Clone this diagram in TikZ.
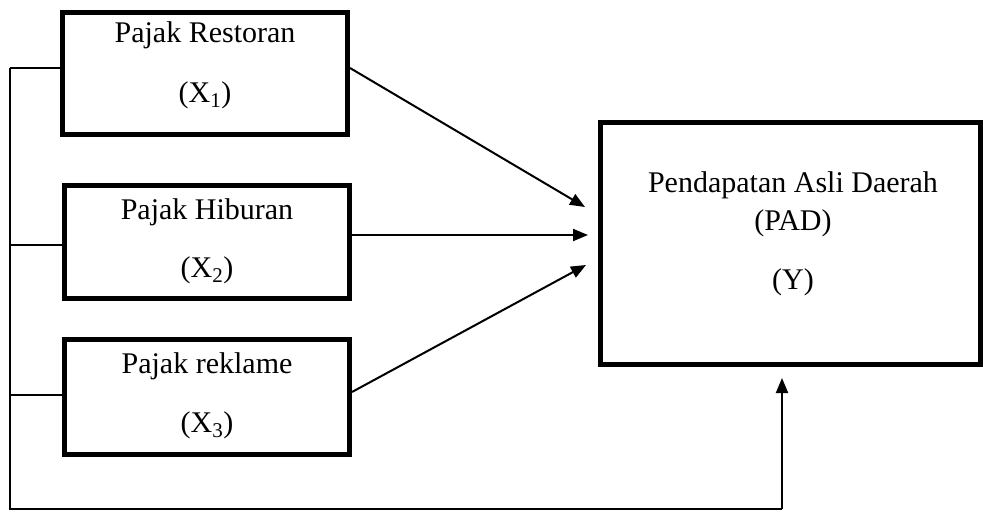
\documentclass[tikz,border=0pt]{standalone}
\usepackage{fontspec}
\setmainfont{Liberation Serif}
\usetikzlibrary{arrows.meta}
\begin{document}
\begin{tikzpicture}[x=1pt,y=-1pt,
  box/.style={draw=black,line width=5pt,fill=white,inner sep=0pt},
  lbl/.style={inner sep=0pt,font=\fontsize{30}{35}\selectfont},
  conn/.style={draw=black,line width=2pt,-{Triangle[length=15pt,width=12pt]}},
  bus/.style={draw=black,line width=1.6pt}]
\useasboundingbox (0,0) rectangle (983,514);
% boxes
\node[box,minimum width=285pt,minimum height=122pt] (b1) at (205,73.5) {};
\node[box,minimum width=285pt,minimum height=113pt] (b2) at (207,242) {};
\node[box,minimum width=285pt,minimum height=115pt] (b3) at (207,397) {};
\node[box,minimum width=380pt,minimum height=242pt] (Y) at (790.5,243.5) {};
% texts
\node[lbl] (t1a) at (205,35) {Pajak Restoran};
\node[lbl] (t1b) at (205,95) {(X\textsubscript{1})};
\node[lbl] (t2a) at (207,212) {Pajak Hiburan};
\node[lbl] (t2b) at (207,270) {(X\textsubscript{2})};
\node[lbl] (t3a) at (207,366) {Pajak reklame};
\node[lbl] (t3b) at (207,425) {(X\textsubscript{3})};
\node[lbl] (ya) at (793,185) {Pendapatan Asli Daerah};
\node[lbl] (yb) at (793,223) {(PAD)};
\node[lbl] (yc) at (793,282) {(Y)};
% bus coordinates
\coordinate (k1) at (10,68);
\coordinate (k2) at (10,245);
\coordinate (k3) at (10,395);
\coordinate (bl) at (10,509);
\coordinate (br) at (782,509);
\draw[bus] (k1) -- (k1 -| b1.west);
\draw[bus] (k2) -- (k2 -| b2.west);
\draw[bus] (k3) -- (k3 -| b3.west);
\draw[bus] (k1) -- (bl) -- (br);
\draw[conn,shorten >=11pt] (br) -- (br |- Y.south);
% arrows to Y
\coordinate (s1) at (352,68);
\coordinate (s2) at (352,235);
\coordinate (s3) at (352,392);
\coordinate (e1) at (585,207);
\coordinate (e2) at (588,235);
\coordinate (e3) at (586,265);
\draw[conn] (s1 -| b1.east) -- (e1);
\draw[conn] (s2 -| b2.east) -- (e2);
\draw[conn] (s3 -| b3.east) -- (e3);
\end{tikzpicture}
\end{document}
